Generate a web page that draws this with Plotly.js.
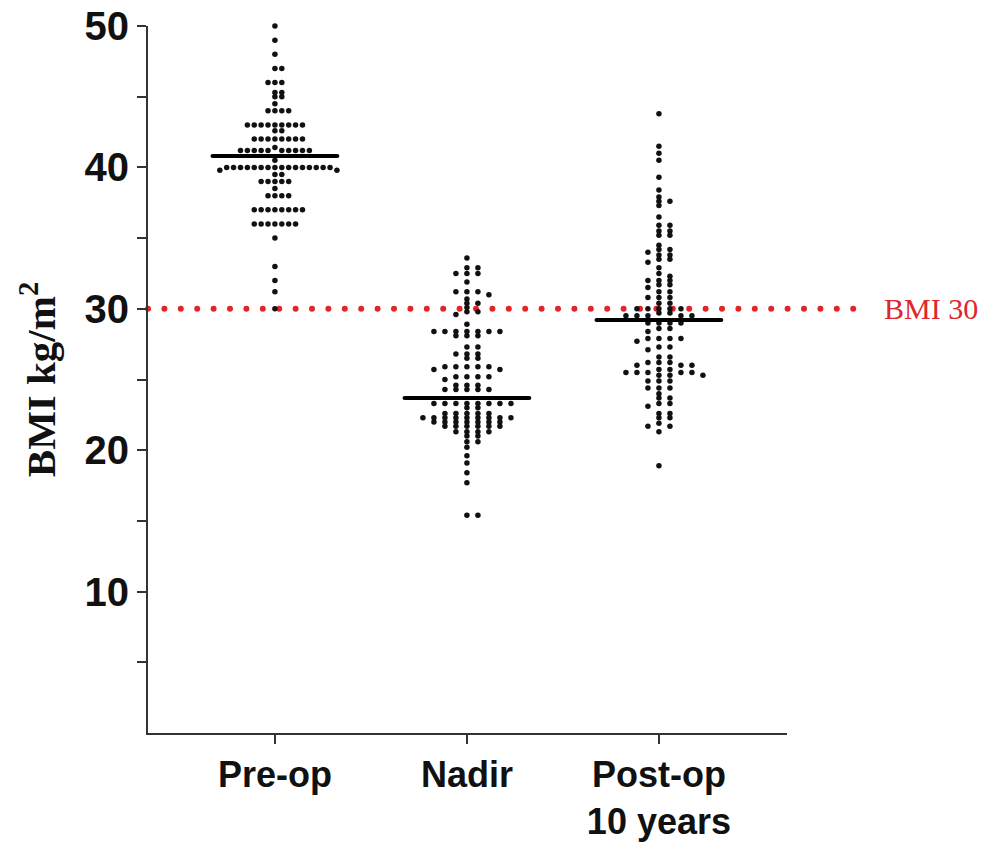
<!DOCTYPE html>
<html>
<head>
<meta charset="utf-8">
<script src="https://cdn.plot.ly/plotly-3.0.1.min.js"></script>
<style>
  html, body { margin: 0; padding: 0; background: #fff; }
  #chart { width: 1004px; height: 844px; }
  .js-plotly-plot .shapelayer path { stroke-linecap: round; }
</style>
</head>
<body>
<div id="chart"></div>
<script>
// ---------- data ----------
const categories = ['Pre-op', 'Nadir', 'Post-op<br>10 years'];

const preOp = [
  50.0, 49.0, 48.0, 47.0, 47.0, 46.0, 46.0, 46.0, 45.3, 45.3, 45.0, 45.0, 44.5,
  44.0, 44.0, 44.0, 44.0,
  43.0, 43.0, 43.0, 43.0, 43.0, 43.0, 43.0, 43.0, 43.0, 42.6, 42.6,
  42.0, 42.0, 42.0, 42.0, 42.0, 42.0, 42.0, 42.0, 41.4,
  41.2, 41.2, 41.2, 41.2, 41.2, 41.2, 41.2, 41.2, 41.2, 41.2, 40.5,
  40.0, 40.0, 40.0, 40.0, 40.0, 40.0, 40.0, 40.0, 40.0, 40.0, 40.0, 40.0, 40.0, 40.0, 40.0, 40.0,
  39.8, 39.8, 39.5, 39.5, 39.0, 39.0, 39.0, 39.0, 39.0, 38.5,
  38.0, 38.0, 38.0, 38.0,
  37.0, 37.0, 37.0, 37.0, 37.0, 37.0, 37.0, 37.0,
  36.0, 36.0, 36.0, 36.0, 36.0, 36.0, 36.0,
  35.0, 33.0, 32.0, 31.2, 30.0
];

const nadir = [
  33.6, 32.9, 32.9, 32.5, 32.5, 32.5, 31.9, 31.2, 31.2, 31.2, 31.0, 30.7, 30.4, 30.4,
  30.1, 29.8, 29.8, 29.6, 28.9,
  28.4, 28.4, 28.4, 28.4, 28.4, 28.4, 28.4, 28.1, 28.1, 28.1, 27.3, 27.3,
  26.8, 26.8, 26.8, 26.5, 26.5, 25.9, 25.9, 25.9, 25.9, 25.9, 25.7, 25.7,
  25.2, 25.2, 25.2, 25.2, 25.0, 24.6, 24.6, 24.6, 24.3, 24.3, 24.3, 24.3, 24.3,
  23.3, 23.3, 23.3, 23.3, 23.3, 23.3, 23.3, 23.3, 23.0, 23.0,
  22.6, 22.6, 22.6, 22.6, 22.6,
  22.3, 22.3, 22.3, 22.3, 22.3, 22.3, 22.3, 22.3, 22.3,
  22.0, 22.0, 22.0, 22.0, 22.0, 22.0, 22.0,
  21.7, 21.7, 21.7, 21.7, 21.7, 21.7, 21.3, 21.3, 21.3, 21.3,
  21.0, 21.0, 20.6, 20.6, 20.2, 19.6, 19.1, 18.4, 17.7, 15.4, 15.4
];

const postOp = [
  43.8, 41.5, 41.0, 40.5, 39.3, 38.4, 37.9, 37.6, 37.6, 37.3, 36.5, 35.9, 35.9,
  35.5, 35.5, 35.2, 35.2, 34.5, 34.2, 34.2, 34.0, 33.8, 33.8, 33.5, 33.5, 33.3,
  32.9, 32.5, 32.3, 32.0, 32.0, 32.0, 31.7, 31.7, 31.5, 31.2, 31.2,
  30.8, 30.8, 30.8, 30.4, 30.4, 30.0, 30.0, 30.0, 30.0, 30.0, 29.7, 29.7,
  29.5, 29.5, 29.5, 29.5, 29.5, 29.0, 29.0, 29.0, 29.0, 28.6, 28.6, 28.4,
  27.9, 27.9, 27.9, 27.9, 27.7, 27.3, 27.3, 27.1, 26.6, 26.6,
  26.2, 26.2, 26.2, 26.0, 26.0, 26.0, 25.7, 25.7,
  25.5, 25.5, 25.5, 25.5, 25.5, 25.3, 25.3, 25.3, 24.9, 24.9, 24.9,
  24.4, 24.4, 24.4, 24.0, 23.7, 23.7, 23.3, 23.3, 23.1, 22.6, 22.6,
  22.3, 22.3, 21.9, 21.7, 21.7, 21.3, 18.9
];

const medians = [40.8, 23.7, 29.2];
const threshold = 30;
const thresholdLabel = 'BMI 30';
const yTickVals = [10, 20, 30, 40, 50];
const yMinorTickVals = [5, 15, 25, 35, 45];

// ---------- layout constants ----------
const W = 1004, H = 844;
const M = { l: 148, r: 217, t: 26, b: 111 };
const xRange = [-0.661, 2.667];
const yRange = [0, 50];
const plotW = W - M.l - M.r, plotH = H - M.t - M.b;
const pxPerX = plotW / (xRange[1] - xRange[0]);
const pxPerY = plotH / (yRange[1] - yRange[0]);

// Prism-style column scatter: spread points with near-equal values sideways
function swarmOffsets(vals, minDyPx, maxSpacingPx, halfWidthPx) {
  const order = vals.map((v, i) => i).sort((a, b) => vals[b] - vals[a]);
  const placed = [];
  const cols = new Array(vals.length);
  for (const i of order) {
    const yp = vals[i] * pxPerY;
    for (let n = 0; ; n++) {
      const k = n === 0 ? 0 : (n % 2 ? (n + 1) / 2 : -n / 2);
      const hit = placed.some(p => p.k === k && Math.abs(p.yp - yp) < minDyPx);
      if (!hit) { placed.push({ k, yp }); cols[i] = k; break; }
    }
  }
  const maxK = Math.max(1, ...cols.map(Math.abs));
  const spacing = Math.min(maxSpacingPx, halfWidthPx / maxK);
  return cols.map(k => k * spacing / pxPerX);
}

const groups = [preOp, nadir, postOp];
const traces = groups.map((vals, gi) => {
  const offs = swarmOffsets(vals, 3.8, 11, 62);
  return {
    type: 'scatter', mode: 'markers',
    x: offs.map(o => gi + o), y: vals,
    marker: { size: 5.5, color: '#111' },
    cliponaxis: false, hoverinfo: 'y', showlegend: false
  };
});

const shapes = [
  {
    type: 'line', xref: 'paper', yref: 'y', x0: 0, x1: (868 - M.l) / plotW,
    y0: threshold, y1: threshold, layer: 'below',
    line: { color: '#e3242b', width: 6, dash: '0px,16.4px' }
  }
].concat(medians.map((m, i) => ({
  type: 'line', xref: 'x', yref: 'y', x0: i - 0.325, x1: i + 0.325,
  y0: m, y1: m, layer: 'above',
  line: { color: '#000', width: 4 }
})));

const tickFont = { family: 'Arial, "Liberation Sans", sans-serif', size: 40, weight: 'bold', color: '#111' };

const layout = {
  width: W, height: H,
  margin: M,
  paper_bgcolor: '#fff', plot_bgcolor: 'rgba(0,0,0,0)',
  showlegend: false,
  xaxis: {
    range: xRange, tickvals: [0, 1, 2], ticktext: categories,
    ticks: 'outside', ticklen: 9, tickwidth: 2, tickcolor: '#333',
    showline: true, linewidth: 2, linecolor: '#333',
    showgrid: false, zeroline: false, fixedrange: true,
    tickfont: Object.assign({}, tickFont, { size: 36 })
  },
  yaxis: {
    range: yRange, tickvals: yTickVals, ticktext: yTickVals.map(String),
    ticks: 'outside', ticklen: 9, tickwidth: 2, tickcolor: '#333',
    showline: true, linewidth: 2, linecolor: '#333',
    showgrid: false, zeroline: false, fixedrange: true,
    tickfont: tickFont,
    minor: { tickvals: yMinorTickVals, ticks: 'outside', ticklen: 9, tickwidth: 2, tickcolor: '#333', showgrid: false },
    title: {
      text: 'BMI kg/m<sup>2</sup>',
      font: { family: '"Times New Roman", "Liberation Serif", serif', size: 41, weight: 'bold', color: '#111' },
      standoff: 16
    }
  },
  shapes: shapes,
  annotations: [{
    xref: 'paper', yref: 'y', x: (882 - M.l) / plotW, y: threshold,
    xanchor: 'left', yanchor: 'middle', showarrow: false,
    text: thresholdLabel,
    font: { family: '"Times New Roman", "Liberation Serif", serif', size: 30, color: '#e0262d' }
  }]
};

Plotly.newPlot('chart', traces, layout, { displayModeBar: false, staticPlot: true });
</script>
</body>
</html>
